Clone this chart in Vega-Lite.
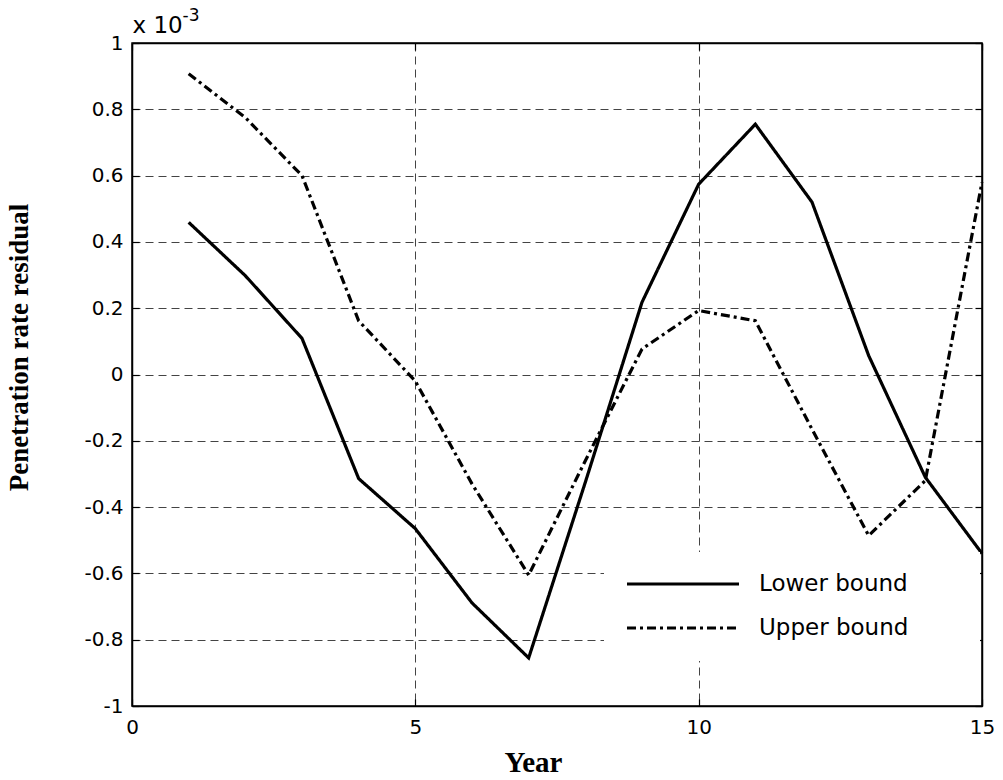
{
  "$schema": "https://vega.github.io/schema/vega-lite/v6.json",
  "width": 850,
  "height": 663,
  "autosize": {"type": "none"},
  "padding": {"left": 132, "top": 43, "right": 21, "bottom": 74},
  "background": "white",
  "config": {"view": {"stroke": "#000", "strokeWidth": 1.5}, "font": "DejaVu Sans"},
  "data": {"values": [
    {"year": 1, "value": 0.459, "series": "Lower bound"},
    {"year": 2, "value": 0.298, "series": "Lower bound"},
    {"year": 3, "value": 0.109, "series": "Lower bound"},
    {"year": 4, "value": -0.314, "series": "Lower bound"},
    {"year": 5, "value": -0.465, "series": "Lower bound"},
    {"year": 6, "value": -0.689, "series": "Lower bound"},
    {"year": 7, "value": -0.855, "series": "Lower bound"},
    {"year": 8, "value": -0.325, "series": "Lower bound"},
    {"year": 9, "value": 0.218, "series": "Lower bound"},
    {"year": 10, "value": 0.574, "series": "Lower bound"},
    {"year": 11, "value": 0.755, "series": "Lower bound"},
    {"year": 12, "value": 0.52, "series": "Lower bound"},
    {"year": 13, "value": 0.057, "series": "Lower bound"},
    {"year": 14, "value": -0.31, "series": "Lower bound"},
    {"year": 15, "value": -0.54, "series": "Lower bound"},
    {"year": 1, "value": 0.907, "series": "Upper bound"},
    {"year": 2, "value": 0.775, "series": "Upper bound"},
    {"year": 3, "value": 0.6, "series": "Upper bound"},
    {"year": 4, "value": 0.162, "series": "Upper bound"},
    {"year": 5, "value": -0.02, "series": "Upper bound"},
    {"year": 6, "value": -0.33, "series": "Upper bound"},
    {"year": 7, "value": -0.605, "series": "Upper bound"},
    {"year": 8, "value": -0.26, "series": "Upper bound"},
    {"year": 9, "value": 0.077, "series": "Upper bound"},
    {"year": 10, "value": 0.193, "series": "Upper bound"},
    {"year": 11, "value": 0.162, "series": "Upper bound"},
    {"year": 12, "value": -0.165, "series": "Upper bound"},
    {"year": 13, "value": -0.486, "series": "Upper bound"},
    {"year": 14, "value": -0.32, "series": "Upper bound"},
    {"year": 15, "value": 0.58, "series": "Upper bound"}
  ]},
  "layer": [
    {
      "mark": {"type": "line", "strokeWidth": 3.2, "color": "#000"},
      "encoding": {
        "x": {
          "field": "year", "type": "quantitative",
          "scale": {"domain": [0, 15], "nice": false, "zero": false},
          "axis": {
            "orient": "bottom", "values": [0, 5, 10, 15], "title": "Year",
            "titleFont": "Liberation Serif", "titleFontWeight": "bold", "titleFontSize": 29, "titleColor": "#000",
            "titleX": 401, "titleY": 65, "titleBaseline": "alphabetic", "titleAlign": "center",
            "labelFont": "DejaVu Sans", "labelFontSize": 20, "labelColor": "#000", "labelPadding": 18, "labelFlush": false,
            "tickSize": -7, "tickColor": "#000", "tickWidth": 1.2,
            "domainColor": "#000", "domainWidth": 1.5,
            "grid": true, "gridColor": "#444", "gridDash": [8, 5], "gridWidth": 1
          }
        },
        "y": {
          "field": "value", "type": "quantitative",
          "scale": {"domain": [-1, 1], "nice": false, "zero": false},
          "axis": {
            "orient": "left", "values": [-1, -0.8, -0.6, -0.4, -0.2, 0, 0.2, 0.4, 0.6, 0.8, 1],
            "labelExpr": "'' + datum.value",
            "title": "Penetration rate residual",
            "titleFont": "Liberation Serif", "titleFontWeight": "bold", "titleFontSize": 27, "titleColor": "#000",
            "titleX": -105, "titleY": 304, "titleBaseline": "alphabetic", "titleAlign": "center", "titleAngle": -90,
            "labelFont": "DejaVu Sans", "labelFontSize": 20, "labelColor": "#000", "labelPadding": 16, "labelFlush": false,
            "tickSize": -7, "tickColor": "#000", "tickWidth": 1.2,
            "domainColor": "#000", "domainWidth": 1.5,
            "grid": true, "gridColor": "#444", "gridDash": [8, 5], "gridWidth": 1
          }
        },
        "strokeDash": {
          "field": "series", "type": "nominal",
          "scale": {"domain": ["Lower bound", "Upper bound"], "range": [[1, 0], [9, 4, 3, 4]]},
          "legend": {
            "orient": "none", "legendX": 472, "legendY": 509, "title": null,
            "symbolType": "stroke", "symbolSize": 12544, "symbolStrokeWidth": 3.2, "symbolStrokeColor": "#000",
            "labelFont": "DejaVu Sans", "labelFontSize": 23, "labelColor": "#000", "labelOffset": 18, "labelLimit": 0,
            "fillColor": "#fff", "padding": 21, "rowPadding": 21, "clipHeight": 22,
            "labelExpr": "datum.label + '\u2800\u2800\u2800'"
          }
        }
      }
    },
    {
      "mark": {"type": "line", "strokeOpacity": 0},
      "encoding": {
        "x": {
          "field": "year", "type": "quantitative",
          "axis": {"orient": "top", "values": [0, 5, 10, 15], "labels": false, "grid": false,
            "title": "x 10", "titleFont": "DejaVu Sans", "titleFontSize": 23, "titleFontWeight": "normal", "titleColor": "#000",
            "titleX": 0, "titleY": -11, "titleAlign": "left", "titleBaseline": "alphabetic",
            "minExtent": 0, "maxExtent": 0,
            "tickSize": -7, "tickColor": "#000", "tickWidth": 1.2, "domainColor": "#000", "domainWidth": 1.5}
        },
        "y": {
          "field": "value", "type": "quantitative",
          "axis": {"orient": "right", "values": [-1, -0.8, -0.6, -0.4, -0.2, 0, 0.2, 0.4, 0.6, 0.8, 1], "labels": false, "grid": false,
            "title": "-3", "titleFont": "DejaVu Sans", "titleFontSize": 17, "titleFontWeight": "normal", "titleColor": "#000",
            "titleX": -800, "titleY": -23, "titleAngle": 0, "titleAlign": "left", "titleBaseline": "alphabetic",
            "minExtent": 0, "maxExtent": 0,
            "tickSize": -7, "tickColor": "#000", "tickWidth": 1.2, "domainColor": "#000", "domainWidth": 1.5}
        },
        "detail": {"field": "series", "type": "nominal"}
      }
    }
  ],
  "resolve": {"axis": {"x": "independent", "y": "independent"}}
}
